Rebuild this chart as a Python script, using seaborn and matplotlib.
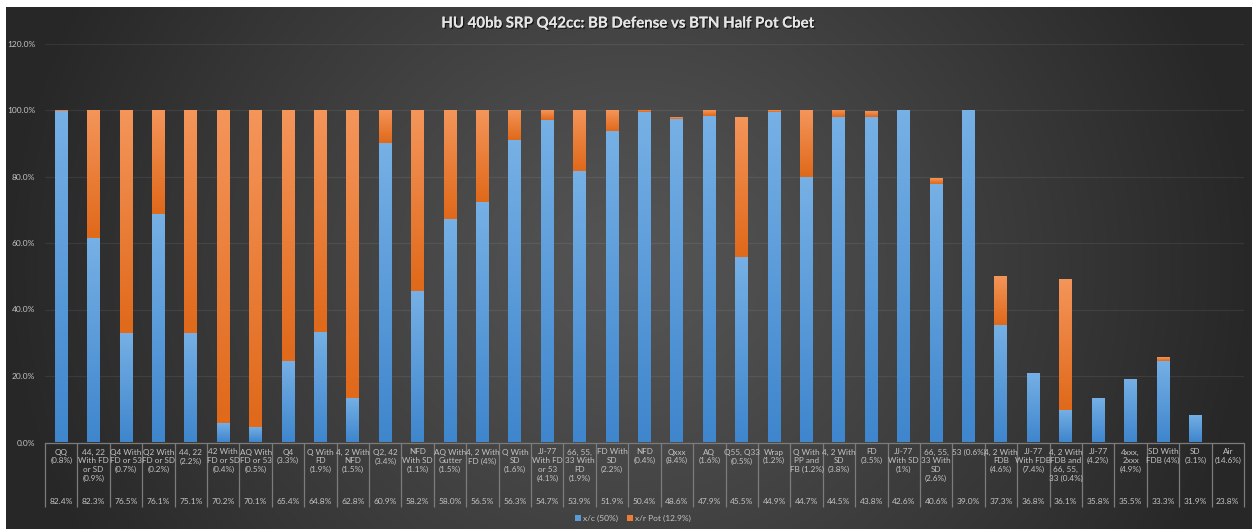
import numpy as np
import pandas as pd
import matplotlib
matplotlib.use("Agg")
import matplotlib.pyplot as plt
import matplotlib.patheffects as pe
from matplotlib.patches import Patch
from matplotlib.colors import LinearSegmentedColormap
from matplotlib.ticker import FuncFormatter, MultipleLocator
import seaborn as sns

# ---- data -------------------------------------------------------------
hands = [
    "QQ\n(0.8%)", "44, 22\nWith FD\nor SD\n(0.9%)", "Q4 With\nFD or 53\n(0.7%)",
    "Q2 With\nFD or SD\n(0.2%)", "44, 22\n(2.2%)", "42 With\nFD or SD\n(0.4%)",
    "AQ With\nFD or 53\n(0.5%)", "Q4\n(3.3%)", "Q With\nFD\n(1.9%)",
    "4, 2 With\nNFD\n(1.5%)", "Q2, 42\n(3.4%)", "NFD\nWith SD\n(1.1%)",
    "AQ With\nGutter\n(1.5%)", "4, 2 With\nFD (4%)", "Q With\nSD\n(1.6%)",
    "JJ-77\nWith FD\nor 53\n(4.1%)", "66, 55,\n33 With\nFD\n(1.9%)", "FD With\nSD\n(2.2%)",
    "NFD\n(0.4%)", "Qxxx\n(8.4%)", "AQ\n(1.6%)", "Q55, Q33\n(0.5%)", "Wrap\n(1.2%)",
    "Q With\nPP and\nFB (1.2%)", "4, 2 With\nSD\n(3.8%)", "FD\n(3.5%)",
    "JJ-77\nWith SD\n(1%)", "66, 55,\n33 With\nSD\n(2.6%)", "53 (0.6%)",
    "4, 2 With\nFDB\n(4.6%)", "JJ-77\nWith FDB\n(7.4%)", "4, 2 With\nFDB and\n66, 55,\n33 (0.4%)",
    "JJ-77\n(4.2%)", "4xxx,\n2xxx\n(4.9%)", "SD With\nFDB (4%)", "SD\n(3.1%)", "Air\n(14.6%)",
]
equity = [82.4, 82.3, 76.5, 76.1, 75.1, 70.2, 70.1, 65.4, 64.8, 62.8, 60.9, 58.2,
          58.0, 56.5, 56.3, 54.7, 53.9, 51.9, 50.4, 48.6, 47.9, 45.5, 44.9, 44.7,
          44.5, 43.8, 42.6, 40.6, 39.0, 37.3, 36.8, 36.1, 35.8, 35.5, 33.3, 31.9, 23.8]
check_call = [99.7, 61.5, 32.9, 68.7, 32.9, 6.0, 4.6, 24.6, 33.3, 13.5, 90.0, 45.6,
              67.2, 72.4, 90.9, 97.0, 81.6, 93.8, 99.3, 97.3, 98.3, 55.9, 99.4, 79.9,
              97.8, 98.0, 100.0, 77.7, 100.0, 35.2, 20.8, 9.8, 13.3, 19.0, 24.6, 8.3, 0.0]
check_raise = [0.3, 38.5, 67.1, 31.3, 67.1, 94.0, 95.4, 75.4, 66.7, 86.5, 10.0, 54.4,
               32.8, 27.6, 9.1, 3.0, 18.4, 6.2, 0.7, 0.5, 1.7, 42.1, 0.6, 20.1,
               2.2, 1.7, 0.0, 1.8, 0.0, 14.9, 0.2, 39.5, 0.0, 0.0, 1.0, 0.0, 0.0]
series_names = ["x/c (50%)", "x/r Pot (12.9%)"]
title = "HU 40bb SRP Q42cc: BB Defense vs BTN Half Pot Cbet"

# ---- style ------------------------------------------------------------
sns.set_theme(style="white")
plt.rcParams["font.family"] = ["Lato", "DejaVu Sans"]

BLUE, ORANGE = "#5b9bd5", "#ed7d31"
BLUE_TOP, BLUE_BOT = "#76b0e5", "#3f86cd"
ORG_TOP, ORG_BOT = "#f4955a", "#e0691a"
TXT = "#c4c4c4"
LINE = "#7c7c7c"

W, H = 1252, 529
fig = plt.figure(figsize=(W / 100, H / 100), dpi=100, facecolor="white")

# dark radial backdrop
bg = fig.add_axes([6 / W, 0, 1 - 6 / W, 1 - 7 / H], zorder=-5)
gx, gy = np.meshgrid(np.linspace(-1, 1, 500), np.linspace(-1, 1, 220))
dist = np.clip(np.sqrt(gx ** 2 + (0.45 * gy) ** 2), 0, 1) ** 1.1
shade = 0.335 - (0.335 - 0.155) * dist
bg.imshow(np.dstack([shade] * 3), aspect="auto", extent=[0, 1, 0, 1], interpolation="bilinear")
bg.set_axis_off()

ax = fig.add_axes([45 / W, 1 - 442.5 / H, (1244 - 45) / W, 399 / H])
ax.set_facecolor("none")

df = pd.DataFrame({"hand": hands, "xc": check_call, "xr": check_raise})
df["top"] = df["xc"] + df["xr"]

sns.barplot(data=df, x="hand", y="top", color=ORANGE, width=0.4, ax=ax,
            saturation=1, zorder=2, order=hands)
n = len(hands)
sns.barplot(data=df, x="hand", y="xc", color=BLUE, width=0.4, ax=ax,
            saturation=1, zorder=3, order=hands)

# vertical gradient inside each bar segment
def grad_cmap(top, bot):
    return LinearSegmentedColormap.from_list("g", [bot, top])

grad = np.linspace(0, 1, 64).reshape(-1, 1)
patches = list(ax.patches)
for k, p in enumerate(patches):
    x0, w, h = p.get_x(), p.get_width(), p.get_height()
    i = k % n
    if k < n:
        lo, hi = df["xc"][i], df["top"][i]
        cm, z = grad_cmap(ORG_TOP, ORG_BOT), 2.1
    else:
        lo, hi = 0, df["xc"][i]
        cm, z = grad_cmap(BLUE_TOP, BLUE_BOT), 3.1
    if h <= 0 or hi - lo <= 0:
        p.set_visible(False)
        continue
    im = ax.imshow(grad, cmap=cm, origin="lower", aspect="auto",
                   extent=[x0, x0 + w, lo, hi], zorder=z, interpolation="bilinear")
    im.set_clip_path(p)
    p.set_facecolor("none")
    p.set_edgecolor("none")

ax.set_xlim(-0.5, n - 0.5)
ax.set_ylim(0, 120)
ax.yaxis.set_major_locator(MultipleLocator(20))
ax.yaxis.set_major_formatter(FuncFormatter(lambda v, _: f"{v:.1f}%"))
ax.tick_params(axis="y", colors=TXT, labelsize=6, length=0, pad=7)
ax.tick_params(axis="x", length=0, labelbottom=False)
ax.set_xlabel("")
ax.set_ylabel("")
ax.grid(axis="y", color="white", alpha=0.07, lw=0.9, zorder=0)
for s in ax.spines.values():
    s.set_visible(False)
ax.axhline(0, color=LINE, lw=0.9, zorder=4, clip_on=False)

# two-level category table under the bars
trans = ax.get_xaxis_transform()
drop = -(507 - 442.5) / 399
for b in range(n + 1):
    ax.plot([b - 0.5, b - 0.5], [0, drop], transform=trans, color=LINE,
            lw=0.9, clip_on=False, solid_capstyle="butt")
for i, (lab, eq) in enumerate(zip(hands, equity)):
    ax.text(i, -(448.5 - 442.5) / 399, lab, transform=trans, ha="center", va="top",
            fontsize=5.9, color=TXT, linespacing=1.3)
    ax.text(i, -(501.5 - 442.5) / 399, f"{eq:.1f}%", transform=trans, ha="center",
            va="center", fontsize=6.0, color=TXT)

handles = [Patch(facecolor=BLUE, edgecolor="none"), Patch(facecolor=ORANGE, edgecolor="none")]
fig.legend(handles, series_names, loc="center", bbox_to_anchor=(633 / W, 1 - 518.5 / H),
           ncol=2, frameon=False, fontsize=6.0, labelcolor=TXT, handlelength=0.7,
           handleheight=0.7, handletextpad=0.3, columnspacing=1.0)

fig.text(628 / W, 1 - 23.5 / H, title, ha="center", va="center", fontsize=10.8,
         fontweight="bold", color="#e4e4e4",
         path_effects=[pe.withSimplePatchShadow(offset=(1, -1), shadow_rgbFace="black", alpha=0.6),
                       pe.Normal()])

fig.savefig("out.png", dpi=100, facecolor=fig.get_facecolor())
